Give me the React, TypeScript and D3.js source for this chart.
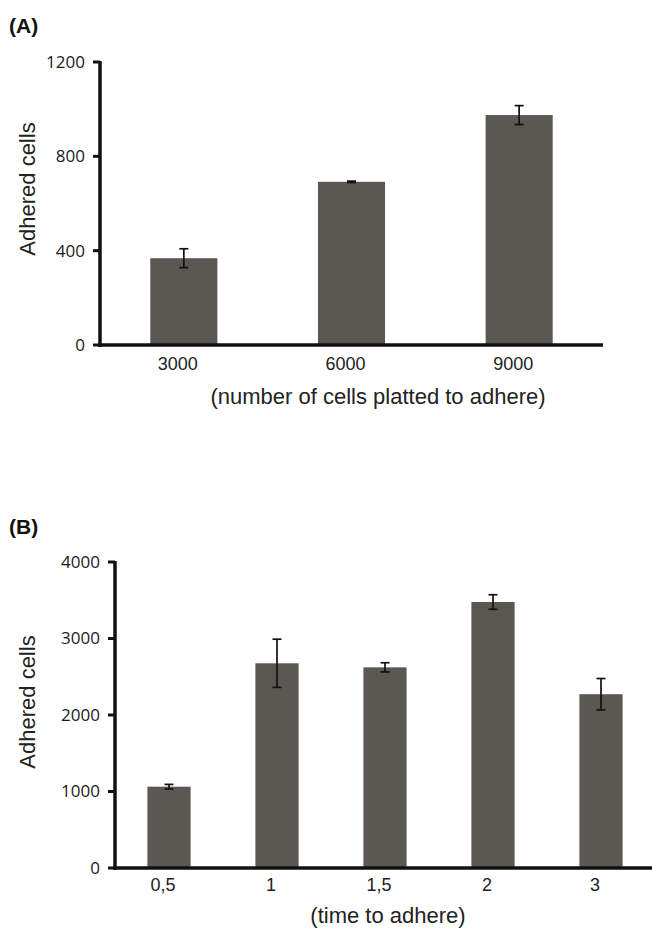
import React from "react";
import * as d3 from "d3";

// Panel A: adhered cells vs. number of cells plated
const platedCategories = ["3000", "6000", "9000"];
const platedMeans = [368, 692, 975];
const platedErrors = [40, 3, 40];
const platedTicks = [0, 400, 800, 1200];

// Panel B: adhered cells vs. time to adhere
const timeCategories = ["0,5", "1", "1,5", "2", "3"];
const timeMeans = [1063, 2676, 2623, 3477, 2272];
const timeErrors = [30, 315, 60, 95, 205];
const timeTicks = [0, 1000, 2000, 3000, 4000];

const BAR_FILL = "#5b5753";
const SANS = "'Liberation Sans', Arial, sans-serif";
const TICK_FONT = "'Open Sans', 'Noto Sans', sans-serif";

type PanelProps = {
  label: string;
  labelY: number;
  categories: string[];
  means: number[];
  errors: number[];
  ticks: number[];
  yMax: number;
  x0: number;
  x1: number;
  yTop: number;
  yBottom: number;
  xTitle: string;
  xTitleX: number;
  xTitleY: number;
  xTickY: number;
  yTitleY: number;
};

function BarPanel(p: PanelProps) {
  const x = d3
    .scaleBand<string>()
    .domain(p.categories)
    .range([p.x0, p.x1])
    .paddingInner(0.6)
    .paddingOuter(0.3);
  const y = d3.scaleLinear().domain([0, p.yMax]).range([p.yBottom, p.yTop]);
  const bw = x.bandwidth();
  const cap = 4.5;

  return (
    <g>
      <text x={9} y={p.labelY} fontFamily={SANS} fontWeight="bold" fontSize={21} fill="#111">
        {p.label}
      </text>

      {p.categories.map((c, i) => (
        <rect
          key={"bar" + c}
          x={x(c)!}
          y={y(p.means[i])}
          width={bw}
          height={y(0) - y(p.means[i])}
          fill={BAR_FILL}
        />
      ))}

      {p.categories.map((c, i) => {
        const cx = x(c)! + bw / 2;
        const hi = y(p.means[i] + p.errors[i]);
        const lo = y(p.means[i] - p.errors[i]);
        return (
          <g key={"err" + c} stroke="#111" strokeWidth={1.7}>
            <line x1={cx} x2={cx} y1={hi} y2={lo} />
            <line x1={cx - cap} x2={cx + cap} y1={hi} y2={hi} />
            <line x1={cx - cap} x2={cx + cap} y1={lo} y2={lo} />
          </g>
        );
      })}

      {/* axes */}
      <line x1={p.x0} x2={p.x0} y1={y(p.yMax) - 1} y2={y(0) + 2} stroke="#111" strokeWidth={3.5} />
      <line x1={p.x0 - 2} x2={p.x1} y1={y(0)} y2={y(0)} stroke="#111" strokeWidth={3.5} />
      {p.ticks.map((t) => (
        <g key={"t" + t}>
          <line x1={p.x0 - 7} x2={p.x0} y1={y(t)} y2={y(t)} stroke="#111" strokeWidth={3} />
          <text
            x={p.x0 - 15}
            y={y(t)}
            dy="0.35em"
            textAnchor="end"
            fontFamily={TICK_FONT}
            fontSize={17}
            fill="#1a1a1a"
          >
            {t}
          </text>
        </g>
      ))}

      {p.categories.map((c) => (
        <text
          key={"xl" + c}
          x={x(c)! + bw / 2 - 6}
          y={p.xTickY}
          textAnchor="middle"
          fontFamily={SANS}
          fontSize={18}
          fill="#222"
        >
          {c}
        </text>
      ))}

      <text
        x={p.xTitleX}
        y={p.xTitleY}
        textAnchor="middle"
        fontFamily={SANS}
        fontSize={22}
        fill="#222"
      >
        {p.xTitle}
      </text>
      <text
        transform={`translate(35,${p.yTitleY}) rotate(-90)`}
        textAnchor="middle"
        fontFamily={SANS}
        fontSize={22}
        fill="#222"
      >
        Adhered cells
      </text>
    </g>
  );
}

export default function App() {
  return (
    <svg
      width={652}
      height={928}
      style={{ position: "absolute", left: 0, top: 0, background: "#fff" }}
    >
      <rect width={652} height={928} fill="#fff" />
      <BarPanel
        label="(A)"
        labelY={33}
        categories={platedCategories}
        means={platedMeans}
        errors={platedErrors}
        ticks={platedTicks}
        yMax={1200}
        x0={100}
        x1={603}
        yTop={62}
        yBottom={345}
        xTitle="(number of cells platted to adhere)"
        xTitleX={378}
        xTitleY={404}
        xTickY={370}
        yTitleY={189}
      />
      <BarPanel
        label="(B)"
        labelY={534}
        categories={timeCategories}
        means={timeMeans}
        errors={timeErrors}
        ticks={timeTicks}
        yMax={4000}
        x0={115}
        x1={655}
        yTop={562}
        yBottom={868}
        xTitle="(time to adhere)"
        xTitleX={388}
        xTitleY={923}
        xTickY={891}
        yTitleY={702}
      />
    </svg>
  );
}
